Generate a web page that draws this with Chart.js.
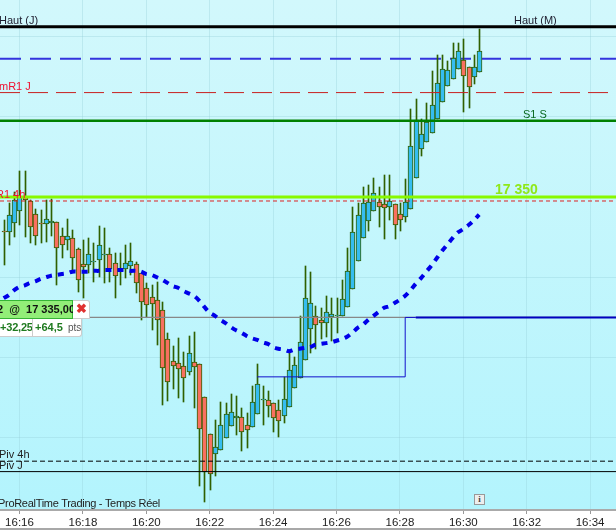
<!DOCTYPE html>
<html>
<head>
<meta charset="utf-8">
<script src="https://cdn.jsdelivr.net/npm/chart.js@4"></script>
<style>
html, body { margin: 0; padding: 0; background: #fff; overflow: hidden; }
#wrap { position: relative; width: 616px; height: 531px; font-family: "Liberation Sans", sans-serif; }
#wrap canvas { position: absolute; left: 0; top: 0; }
.tag { position: absolute; box-sizing: border-box; white-space: nowrap; font-family: "Liberation Sans", sans-serif; }
#tagPrice { left: -4px; top: 300px; width: 77px; height: 19px; background: #92ee78; border: 1px solid #35b535; color: #111; font-weight: bold; font-size: 11px; line-height: 17px; text-align: right; padding-right: 2px; }
#tagClose { left: 73px; top: 300px; width: 17px; height: 19px; background: #fff; border: 1px solid #ccc; border-left: 0; border-radius: 0 3px 0 0; color: #e03030; font-size: 13px; line-height: 16px; font-weight: bold; text-align: center; }
#tagGain { left: -4px; top: 319px; width: 86px; height: 18px; background: #fff; border: 1px solid #ccc; border-top: 0; border-radius: 0 0 3px 3px; color: #1f7a1f; font-weight: bold; font-size: 11px; line-height: 17px; }
#tagGain span { position: absolute; top: 0; }
#gainSep { position: absolute; left: 35px; top: 0; width: 1px; height: 17px; background: #ccc; }
#stripe { position: absolute; left: 0; top: 528px; width: 616px; height: 2px; background: #a8a8a8; }
#info { position: absolute; left: 474px; top: 494px; width: 11px; height: 11px; box-sizing: border-box; background: #eee; border: 1px solid #999; color: #444; font-size: 9px; line-height: 9px; text-align: center; font-family: "Liberation Serif", serif; font-weight: bold; }
</style>
</head>
<body>
<div id="wrap">
    <canvas id="chart" width="616" height="531"></canvas>
    <div class="tag" id="tagPrice">2&nbsp;&nbsp;@&nbsp;&nbsp;17 335,00</div>
    <div class="tag" id="tagClose">&#10006;</div>
    <div class="tag" id="tagGain"><span style="left:3px;letter-spacing:-0.2px">+32,25</span><div id="gainSep"></div><span style="left:38px">+64,5</span><span style="left:71px;font-weight:normal;font-size:10px;color:#555">pts</span></div>
    <div id="stripe"></div>
    <div id="info">i</div>
</div>

<script>
// one bar every 10 seconds, first bar is 30 s before 16:16
const barTimes = [-30,-20,-10,0,10,20,30,40,50,60,70,80,90,100,110,120,130,140,150,160,170,180,190,200,210,220,230,240,250,260,270,280,290,300,310,320,330,340,350,360,370,380,390,400,410,420,430,440,450,460,470,480,490,500,510,520,530,540,550,560,570,580,590,600,610,620,630,640,650,660,670,680,690,700,710,720,730,740,750,760,770,780,790,800,810,820,830,840,850,860,870];
const opens = [17345.8,17345.6,17346.8,17348.3,17350,17349.5,17347.9,17346.7,17346.6,17346.8,17346.9,17345.1,17344.6,17344.9,17343.5,17341.7,17341.5,17341.9,17342.2,17342.8,17342.9,17341.8,17340.8,17341,17341.4,17341.7,17340.5,17338.7,17337.5,17337.2,17335.9,17332.3,17329.6,17329.3,17329,17328.2,17329.5,17329.2,17325.1,17320.5,17318,17318.5,17320,17321.5,17322.5,17322.6,17321.6,17321.4,17323,17324.7,17324.7,17324.4,17323.5,17322.7,17323.9,17326.2,17327.5,17329.7,17333.6,17335.2,17334.7,17334.3,17335.1,17335.2,17335.2,17336.3,17338.5,17342,17344.9,17347,17348.3,17349.4,17349.1,17348.8,17349.1,17347.9,17347.5,17348.5,17352.4,17356,17356.8,17358,17359.7,17361.8,17363.8,17364.7,17365.9,17367.1,17366.2,17364.9,17365.6];
const highs = [17347.1,17349.3,17350.6,17353.2,17353.2,17349.6,17348.5,17348.4,17349.6,17349.8,17346.9,17346.1,17347.3,17345.9,17343.6,17344.6,17344.9,17344.3,17346.4,17346.1,17343.6,17343,17343,17344,17344.3,17341.9,17340.5,17339.3,17339,17339.4,17336.9,17333.1,17331.4,17332.4,17330.7,17332.7,17333.2,17329.2,17325.1,17320.5,17322.2,17324.5,17324.4,17325.5,17325.2,17323.7,17323.1,17326.5,17329.2,17326.5,17325.8,17324.4,17324.7,17327.6,17330.7,17330.1,17335.2,17341.4,17340.7,17336.4,17336.2,17337.7,17337.4,17337.4,17339.7,17343.6,17348.8,17349.3,17351.2,17351.5,17352.4,17351.2,17352.7,17352.7,17349.1,17349.3,17352.2,17361,17362.2,17359.7,17361.7,17365.7,17367.7,17367.7,17366.9,17369.2,17369.2,17369.7,17366.2,17367.7,17370.9];
const lows = [17341.5,17344,17345,17346.5,17345,17344.3,17344,17344.3,17344.4,17345.1,17339,17342.4,17343.4,17340.9,17338.2,17337.4,17340.5,17339.4,17340,17339.3,17339.4,17337.4,17339,17339.9,17340.3,17338,17334.7,17335.1,17333.4,17331.6,17324.1,17324.6,17326.1,17325,17324.5,17327.8,17323.7,17314,17312,17313.5,17315.3,17318.5,17320,17321.5,17320.4,17318.4,17318.8,17321.4,17323,17321.6,17322.6,17320.7,17320.1,17321.9,17323.9,17326.2,17327.5,17329.7,17330.6,17331.1,17332.3,17332.6,17332.1,17333.1,17335.2,17336.3,17338.5,17342,17344.9,17345.8,17348.3,17346.3,17344.8,17347.1,17344.8,17345.8,17346.9,17348.5,17352.4,17355.1,17356.8,17358,17359.7,17361.8,17363.8,17364.7,17365.9,17360.6,17361.1,17364.1,17365.6];
const closes = [17345.6,17347.8,17349.6,17350,17349.6,17346.3,17345.1,17346.6,17347.3,17347,17343.7,17344,17345.1,17342.4,17339.7,17341.3,17342.9,17342,17344,17342.9,17341,17340.2,17340.9,17341.8,17342,17339.3,17336.9,17336.6,17336.7,17334.7,17328.7,17327,17329,17328.6,17327.5,17330.6,17328.8,17321.1,17315.8,17315.5,17318.9,17321.6,17323,17323.2,17322.7,17320.7,17321,17324.5,17326.7,17324.9,17324,17322.5,17322.1,17324.9,17328.5,17329.1,17331.9,17337.4,17336.8,17334.1,17334.3,17335.7,17335.4,17335.3,17337.3,17340.8,17345.6,17347.8,17349.3,17349.4,17350.5,17348.8,17348.6,17349.5,17346.5,17347.1,17349.4,17356.3,17359.6,17357.8,17359.3,17361.5,17364.2,17365.9,17365.8,17367.3,17368.2,17365.1,17363.7,17366.2,17368.2];
const average = [17337.4,17337.8,17338.4,17338.8,17339,17339.3,17339.5,17339.8,17340,17340.2,17340.3,17340.4,17340.5,17340.7,17340.7,17340.7,17340.7,17340.8,17340.8,17340.9,17340.9,17340.9,17340.9,17340.9,17340.8,17340.8,17340.7,17340.4,17340.3,17340,17339.7,17339.3,17338.9,17338.7,17338.3,17338,17337.7,17337.1,17336.3,17335.6,17335.2,17334.7,17334.3,17333.8,17333.4,17333.1,17332.7,17332.4,17332.2,17331.9,17331.7,17331.3,17331.1,17331,17330.8,17331,17331.1,17331.2,17331.3,17331.6,17331.7,17331.8,17331.9,17332.1,17332.3,17332.6,17333.1,17333.7,17334.1,17334.7,17335.2,17335.7,17336.2,17336.4,17336.8,17337.2,17337.7,17338.4,17339.2,17339.9,17340.7,17341.5,17342.4,17343.3,17344.1,17344.9,17345.6,17346,17346.5,17347.1,17347.8];

// horizontal levels
const hautJ = 17371.2;
const blueLevel = 17367.2;
const mR1J = 17363;
const s1S = 17359.5;
const level17350 = 17350;
const r14h = 17349.5;
const positionLevel = 17335;
const piv4h = 17317.1;
const pivJ = 17315.8;

// order line (thin step, then thick to the right)
const stepTimes = [450, 730, 730, 750];
const stepPrices = [17327.6, 17327.6, 17335, 17335];
const orderTimes = [750, 1130];
const orderPrices = [17335, 17335];

const tickLabels = ['16:16','16:18','16:20','16:22','16:24','16:26','16:28','16:30','16:32','16:34'];

const X_MIN = -36.9, X_MAX = 1129, Y_MIN = 17311.02, Y_MAX = 17374.53;

const UP = '#35bdf0', DOWN = '#f8705f', EDGE = '#2f6000';

function level(price, color, width, dash, order) {
    return {
        type: 'line', data: [{ x: X_MIN, y: price }, { x: X_MAX, y: price }],
        borderColor: color, borderWidth: width, borderDash: dash || [], pointRadius: 0, order: order
    };
}

const wicks = barTimes.map((t, i) => ({ x: t, y: [lows[i], highs[i]] }));
const bodies = barTimes.map((t, i) => ({ x: t, y: [opens[i], closes[i]] }));
const bodyColors = barTimes.map((t, i) => closes[i] >= opens[i] ? UP : DOWN);

// text written on the levels
const labels = [
    { text: 'Haut (J)', x: -1, price: hautJ, dy: -3, color: '#223' },
    { text: 'Haut (M)', x: 514, price: hautJ, dy: -3, color: '#223' },
    { text: 'mR1 J', x: -1, price: mR1J, dy: -3, color: '#f01030' },
    { text: 'S1 S', x: 523, price: s1S, dy: -3, color: '#0a6a20' },
    { text: 'R1 4h', x: -4, price: level17350, dy: 1, color: '#f01030' },
    { text: 'Piv 4h', x: -1, price: piv4h, dy: -3, color: '#222' },
    { text: 'Piv J', x: -1, price: pivJ, dy: -3, color: '#222' }
];

const chartDecor = {
    id: 'chartDecor',
    beforeDraw(chart) {
        const { ctx, chartArea: a } = chart;
        const g = ctx.createLinearGradient(0, a.top, 0, a.bottom);
        g.addColorStop(0, '#d2f8fc');
        g.addColorStop(1, '#b3f4fd');
        ctx.save();
        ctx.fillStyle = g;
        ctx.fillRect(a.left, a.top, a.right - a.left, a.bottom - a.top);
        ctx.restore();
    },
    // candles sit on whole pixels, like the trading screen does
    afterDatasetsUpdate(chart) {
        chart.data.datasets.forEach((ds, i) => {
            if (ds.type !== 'bar') return;
            chart.getDatasetMeta(i).data.forEach(el => {
                el.x = Math.round(el.x) + 0.5;
                el.y = Math.round(el.y);
                el.base = Math.round(el.base);
            });
        });
    },
    afterDatasetsDraw(chart) {
        const { ctx, scales } = chart;
        ctx.save();
        ctx.font = '11px "Liberation Sans"';
        ctx.textBaseline = 'alphabetic';
        labels.forEach(l => {
            ctx.fillStyle = l.color;
            ctx.fillText(l.text, l.x, scales.y.getPixelForValue(l.price) + l.dy);
        });
        ctx.fillStyle = '#222';
        ctx.letterSpacing = '-0.3px';
        ctx.fillText('ProRealTime Trading - Temps Réel', -2, 507);
        ctx.letterSpacing = '0px';
        ctx.font = 'bold 14px "Liberation Sans"';
        ctx.fillStyle = '#8fe81a';
        ctx.fillText('17 350', 495, 194);
        ctx.restore();
    }
};

new Chart(document.getElementById('chart'), {
    data: {
        datasets: [
            level(blueLevel, '#3333dd', 2, [21, 9], 9),
            { type: 'bar', data: wicks, backgroundColor: EDGE, barThickness: 1, grouped: false, order: 8 },
            {
                type: 'bar', data: bodies, backgroundColor: bodyColors, borderColor: EDGE,
                borderWidth: 1, borderSkipped: false, barThickness: 5, grouped: false, order: 7
            },
            level(hautJ, '#000', 3, [], 5),
            level(mR1J, '#c82020', 1, [20, 8], 5),
            level(s1S, '#008000', 2.5, [], 5),
            level(r14h, '#dd2222', 1, [4, 3], 5),
            level(level17350, '#88f800', 3, [], 4),
            level(positionLevel, '#888', 1.2, [], 4),
            level(piv4h, '#000', 1, [5, 3], 5),
            level(pivJ, '#000', 1, [], 5),
            {
                type: 'line', data: stepTimes.map((t, i) => ({ x: t, y: stepPrices[i] })),
                borderColor: '#1010cc', borderWidth: 1, pointRadius: 0, order: 3
            },
            {
                type: 'line', data: orderTimes.map((t, i) => ({ x: t, y: orderPrices[i] })),
                borderColor: '#0000c0', borderWidth: 2, pointRadius: 0, order: 3
            },
            {
                type: 'line', data: barTimes.map((t, i) => ({ x: t, y: average[i] })),
                borderColor: '#0000e8', borderWidth: 4, borderDash: [6, 6], pointRadius: 0, tension: 0.3, order: 1
            }
        ]
    },
    options: {
        responsive: false,
        animation: false,
        devicePixelRatio: 1,
        layout: { padding: 0 },
        plugins: { legend: { display: false }, tooltip: { enabled: false } },
        scales: {
            x: {
                type: 'linear', min: X_MIN, max: X_MAX, offset: false,
                afterFit(s) { s.height = 21; s.paddingLeft = 0; s.paddingRight = 0; },
                grid: { offset: false, color: 'rgba(150,205,215,0.35)', borderDash: [5, 5], tickBorderDash: [], tickColor: '#999', tickLength: 4 },
                border: { color: '#aaa', width: 2 },
                ticks: {
                    stepSize: 120, includeBounds: false, autoSkip: false, maxRotation: 0, padding: 2,
                    color: '#222', font: { family: 'Liberation Sans', size: 11.5 },
                    callback: v => tickLabels[v / 120]
                }
            },
            y: {
                type: 'linear', min: Y_MIN, max: Y_MAX,
                afterFit(s) { s.width = 0; },
                grid: { color: 'rgba(150,205,215,0.35)', borderDash: [5, 5], drawTicks: false },
                border: { display: false },
                ticks: { display: false, stepSize: 10, includeBounds: false }
            }
        }
    },
    plugins: [chartDecor]
});
</script>
</body>
</html>
